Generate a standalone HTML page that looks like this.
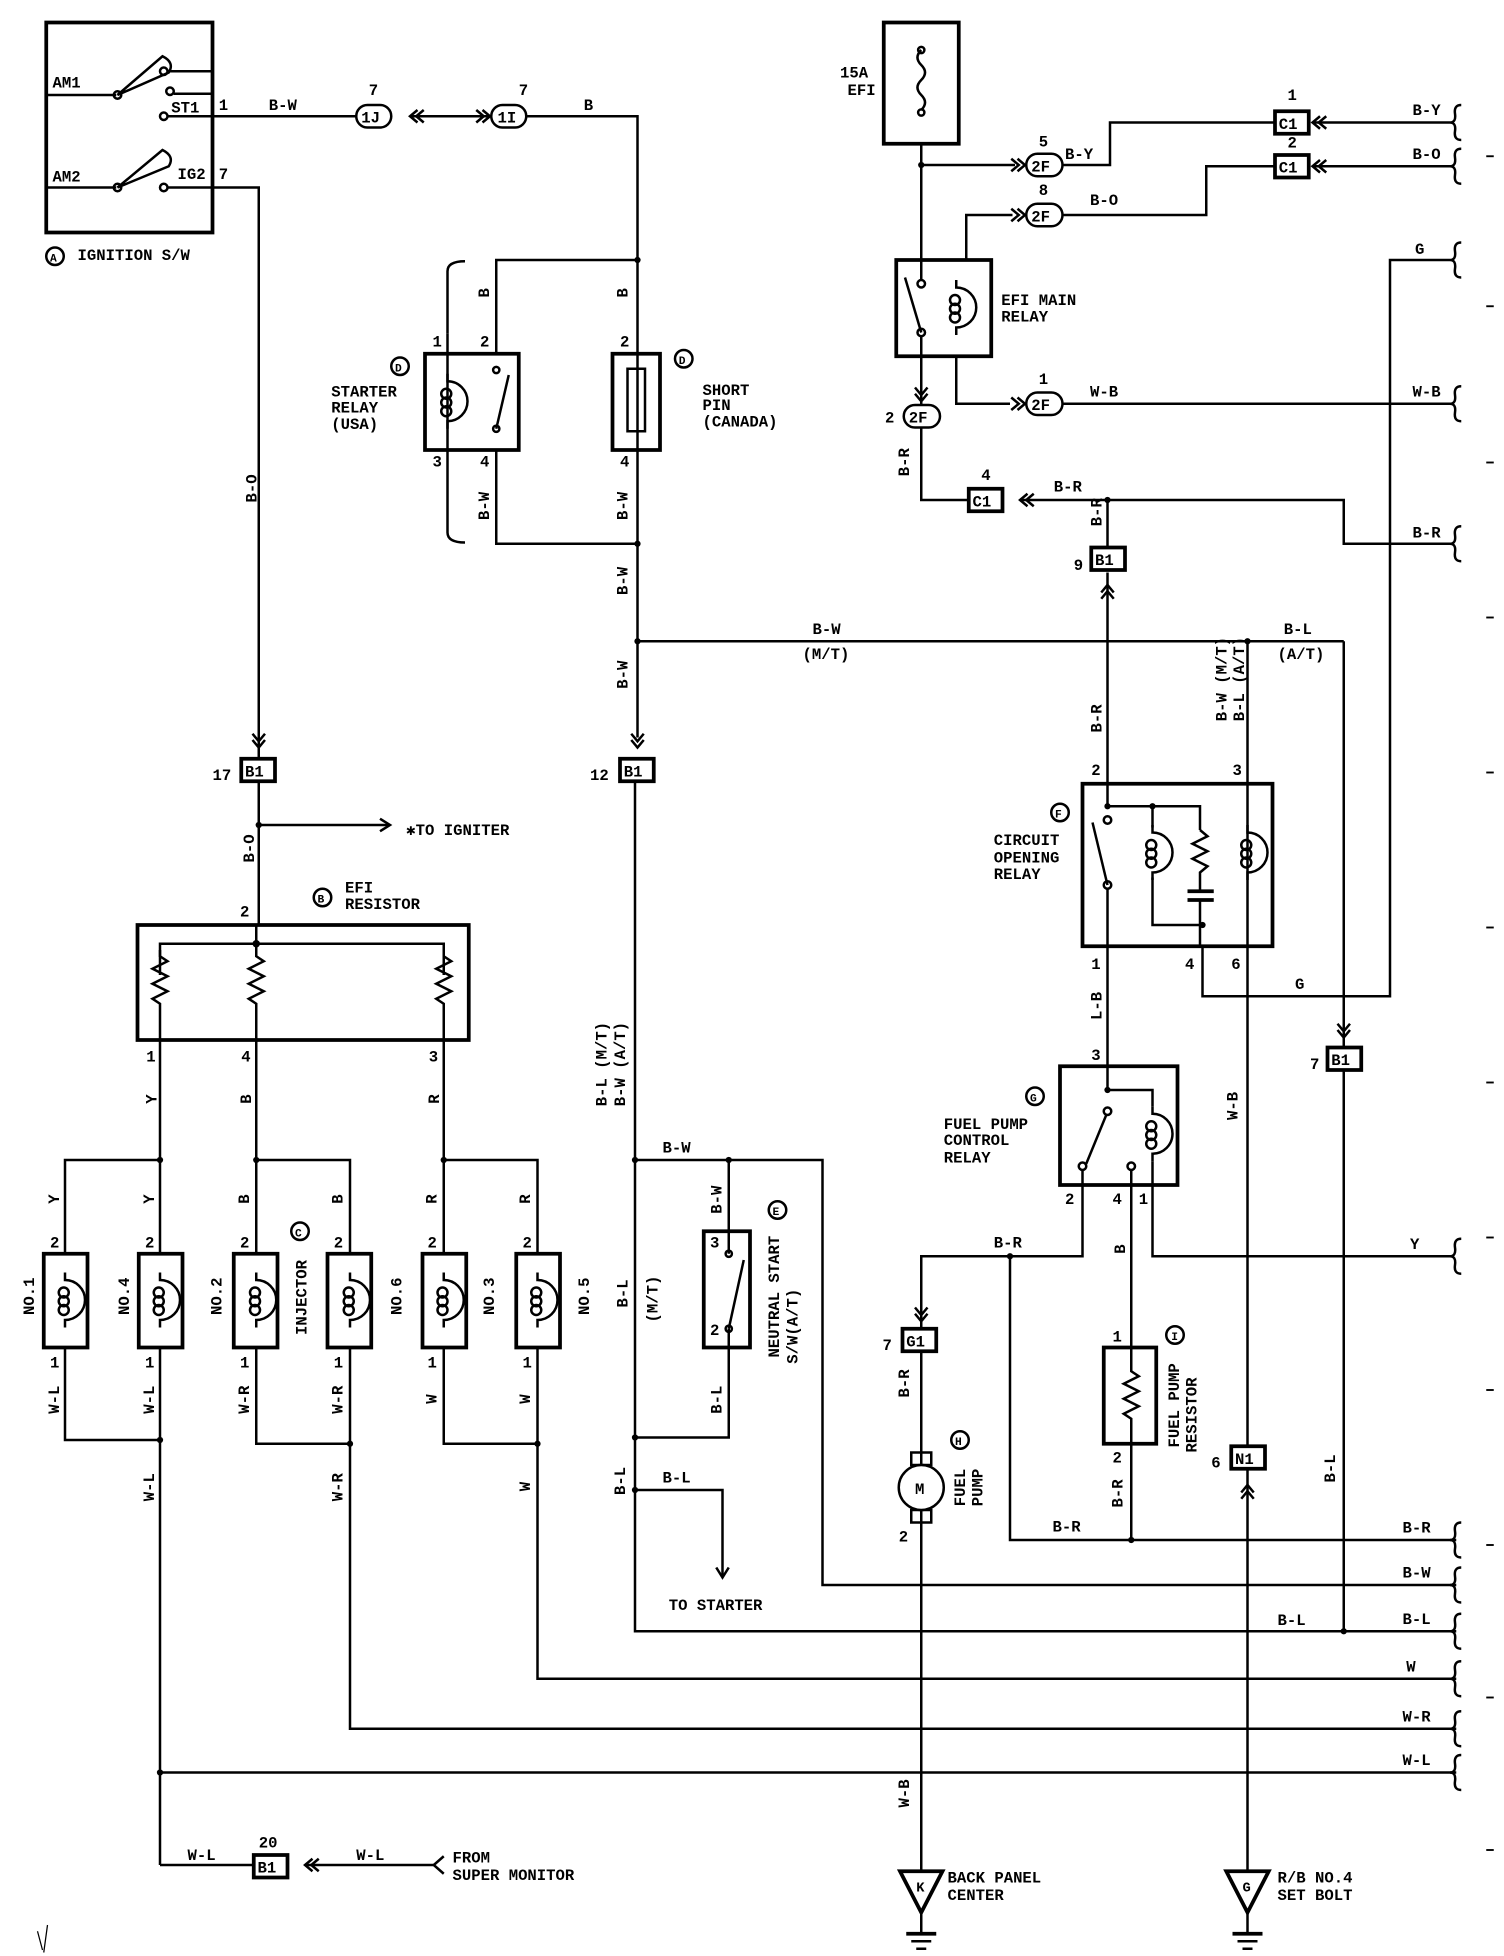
<!DOCTYPE html>
<html><head><meta charset="utf-8"><style>
html,body{margin:0;padding:0;background:#fff;}
svg{display:block}
text{font-family:"Liberation Mono","DejaVu Sans Mono",monospace;font-size:12.5px;font-weight:bold;fill:#000}
.w{fill:none;stroke:#000;stroke-width:2}
.b{fill:none;stroke:#000;stroke-width:3}
.f{fill:#000}
</style></head><body>
<svg width="1504" height="1956" viewBox="0 0 1203.2 1564.8" preserveAspectRatio="none" xmlns="http://www.w3.org/2000/svg">
<defs>
<g id="chev"><polyline points="-6,-5 0,0 -6,5" class="w"/><polyline points="-11,-5 -5,0 -11,5" class="w"/></g>
<g id="coil"><path d="M0,-22 v6 a4,4 0 0 1 0,32 v6" class="w"/><circle cx="-1" cy="-6" r="4" class="w" stroke-width="1.6"/><circle cx="-1" cy="1" r="4" class="w" stroke-width="1.6"/><circle cx="-1" cy="8" r="4" class="w" stroke-width="1.6"/></g>
<g id="res"><polyline points="0,0 0,5 6,9 -6,15 6,21 -6,27 6,33 -6,39 0,43 0,48" class="w"/></g>
<g id="brace"><path d="M6,-14 q-6,0 -5,7 q1,7 -4,7 q5,0 4,7 q-1,7 5,7" class="w"/></g>
<g id="gnd"><polygon points="-17,0 17,0 0,33" class="b"/><line x1="0" y1="33" x2="0" y2="50" class="w"/><line x1="-12" y1="50" x2="12" y2="50" class="b"/><line x1="-8" y1="56" x2="8" y2="56" class="w"/><line x1="-4" y1="62" x2="4" y2="62" class="w"/></g>
</defs>

<!-- Ignition switch -->
<rect x="37" y="18" width="133" height="168" class="b"/>
<text x="42" y="70">AM1</text><text x="42" y="145">AM2</text>
<line x1="37" y1="76" x2="93" y2="76" class="w"/><line x1="37" y1="150" x2="93" y2="150" class="w"/>
<circle cx="94" cy="76" r="3" class="w"/><circle cx="94" cy="150" r="3" class="w"/>
<path d="M94,76 L130,45 Q140,50 135,58 Z" class="w"/><path d="M94,150 L130,120 Q140,125 135,133 Z" class="w"/>
<circle cx="131" cy="57" r="3" class="w"/><line x1="134" y1="57" x2="170" y2="57" class="w"/>
<circle cx="136" cy="73" r="3" class="w"/><line x1="139" y1="75" x2="170" y2="75" class="w"/>
<circle cx="131" cy="93" r="3" class="w"/><text x="137" y="90">ST1</text>
<circle cx="131" cy="150" r="3" class="w"/><text x="142" y="143">IG2</text>
<text x="175" y="88">1</text><text x="175" y="143">7</text>
<circle cx="44" cy="205" r="7" class="w"/><text x="40" y="209" style="font-size:9px">A</text><text x="62" y="208">IGNITION S/W</text>

<!-- ST1 wire -->
<line x1="134" y1="93" x2="285" y2="93" class="w"/><text x="215" y="88">B-W</text>
<rect x="285" y="84" width="28" height="18" rx="9" class="w"/><text x="289" y="98">1J</text><text x="295" y="76">7</text>
<use href="#chev" transform="translate(328,93) rotate(180)"/><line x1="328" y1="93" x2="392" y2="93" class="w"/>
<use href="#chev" transform="translate(392,93)"/>
<rect x="393" y="84" width="28" height="18" rx="9" class="w"/><text x="398" y="98">1I</text><text x="415" y="76">7</text>
<polyline points="421,93 510,93 510,590" class="w"/><text x="467" y="88">B</text>

<!-- IG2 wire -->
<polyline points="134,150 207,150 207,606" class="w"/><use href="#chev" transform="translate(207,598) rotate(90)"/>
<text x="203" y="410" transform="rotate(-90 200 405)">B-O</text>
<rect x="193" y="607" width="27" height="18" class="b"/><text x="196" y="621">B1</text><text x="170" y="624">17</text>
<line x1="207" y1="625" x2="207" y2="740" class="w"/><circle cx="207" cy="660" r="2.5" class="f"/>
<line x1="207" y1="660" x2="312" y2="660" class="w"/><polyline points="304,655 312,660 304,665" class="w"/>
<text x="325" y="668">✱TO IGNITER</text>
<text x="198" y="695" transform="rotate(-90 198 690)">B-O</text>
<text x="192" y="733">2</text>
<circle cx="258" cy="718" r="7" class="w"/><text x="254" y="722" style="font-size:9px">B</text>
<text x="276" y="714">EFI</text><text x="276" y="727">RESISTOR</text>

<!-- EFI resistor -->
<rect x="110" y="740" width="265" height="92" class="b"/>
<polyline points="128,780 128,755 355,755 355,780" class="w"/><line x1="205" y1="740" x2="205" y2="760" class="w"/><circle cx="205" cy="755" r="3" class="f"/>
<use href="#res" transform="translate(128,760)"/><use href="#res" transform="translate(205,760)"/><use href="#res" transform="translate(355,760)"/>
<line x1="128" y1="808" x2="128" y2="928" class="w"/><line x1="205" y1="808" x2="205" y2="928" class="w"/><line x1="355" y1="808" x2="355" y2="928" class="w"/>
<text x="117" y="849">1</text><text x="193" y="849">4</text><text x="343" y="849">3</text>
<text x="122" y="890" transform="rotate(-90 120 885)">Y</text><text x="198" y="890" transform="rotate(-90 196 885)">B</text><text x="348" y="890" transform="rotate(-90 346 885)">R</text>

<!-- Injectors -->
<g>
<polyline points="52,1003 52,928 128,928 128,1003" class="w"/>
<polyline points="205,1003 205,928 280,928 280,1003" class="w"/>
<polyline points="355,1003 355,928 430,928 430,1003" class="w"/>
<circle cx="128" cy="928" r="2.5" class="f"/><circle cx="205" cy="928" r="2.5" class="f"/><circle cx="355" cy="928" r="2.5" class="f"/>
<rect x="35" y="1003" width="35" height="75" class="b"/><rect x="111" y="1003" width="35" height="75" class="b"/>
<rect x="187" y="1003" width="35" height="75" class="b"/><rect x="262" y="1003" width="35" height="75" class="b"/>
<rect x="338" y="1003" width="35" height="75" class="b"/><rect x="413" y="1003" width="35" height="75" class="b"/>
<use href="#coil" transform="translate(52,1040)"/><use href="#coil" transform="translate(128,1040)"/>
<use href="#coil" transform="translate(205,1040)"/><use href="#coil" transform="translate(280,1040)"/>
<use href="#coil" transform="translate(355,1040)"/><use href="#coil" transform="translate(430,1040)"/>
<text x="40" y="998">2</text><text x="116" y="998">2</text><text x="192" y="998">2</text><text x="267" y="998">2</text><text x="342" y="998">2</text><text x="418" y="998">2</text>
<text x="40" y="1094">1</text><text x="116" y="1094">1</text><text x="192" y="1094">1</text><text x="267" y="1094">1</text><text x="342" y="1094">1</text><text x="418" y="1094">1</text>
<text x="44" y="970" transform="rotate(-90 42 965)">Y</text><text x="120" y="970" transform="rotate(-90 118 965)">Y</text>
<text x="196" y="970" transform="rotate(-90 194 965)">B</text><text x="271" y="970" transform="rotate(-90 269 965)">B</text>
<text x="346" y="970" transform="rotate(-90 344 965)">R</text><text x="421" y="970" transform="rotate(-90 419 965)">R</text>
<text x="10" y="1045" transform="rotate(-90 22 1040)">NO.1</text><text x="86" y="1045" transform="rotate(-90 98 1040)">NO.4</text>
<text x="160" y="1045" transform="rotate(-90 172 1040)">NO.2</text><text x="212" y="1045" transform="rotate(-90 240 1040)">INJECTOR</text>
<circle cx="240" cy="985" r="7" class="w"/><text x="236" y="989" style="font-size:9px">C</text>
<text x="304" y="1045" transform="rotate(-90 316 1040)">NO.6</text><text x="378" y="1045" transform="rotate(-90 390 1040)">NO.3</text>
<text x="454" y="1045" transform="rotate(-90 466 1040)">NO.5</text>
<polyline points="52,1078 52,1152 128,1152" class="w"/><line x1="128" y1="1078" x2="128" y2="1492" class="w"/>
<polyline points="205,1078 205,1155 280,1155" class="w"/><polyline points="280,1078 280,1383 1165,1383" class="w"/>
<polyline points="355,1078 355,1155 430,1155" class="w"/><polyline points="430,1078 430,1343 1165,1343" class="w"/>
<circle cx="128" cy="1152" r="2.5" class="f"/><circle cx="280" cy="1155" r="2.5" class="f"/><circle cx="430" cy="1155" r="2.5" class="f"/>
<text x="36" y="1130" transform="rotate(-90 42 1125)">W-L</text><text x="112" y="1130" transform="rotate(-90 118 1125)">W-L</text>
<text x="188" y="1130" transform="rotate(-90 194 1125)">W-R</text><text x="263" y="1130" transform="rotate(-90 269 1125)">W-R</text>
<text x="346" y="1130" transform="rotate(-90 344 1125)">W</text><text x="421" y="1130" transform="rotate(-90 419 1125)">W</text>
<text x="112" y="1200" transform="rotate(-90 118 1195)">W-L</text><text x="263" y="1200" transform="rotate(-90 269 1195)">W-R</text>
<text x="421" y="1200" transform="rotate(-90 419 1195)">W</text>
<line x1="128" y1="1418" x2="1165" y2="1418" class="w"/><circle cx="128" cy="1418" r="2.5" class="f"/>
<line x1="128" y1="1492" x2="203" y2="1492" class="w"/><text x="150" y="1488">W-L</text>
<rect x="203" y="1484" width="27" height="18" class="b"/><text x="206" y="1498">B1</text><text x="207" y="1478">20</text>
<use href="#chev" transform="translate(244,1492) rotate(180)"/><line x1="244" y1="1492" x2="348" y2="1492" class="w"/>
<polyline points="355,1485 347,1492 355,1499" class="w"/><text x="285" y="1488">W-L</text>
<text x="362" y="1490">FROM</text><text x="362" y="1504">SUPER MONITOR</text>
</g>

<!-- Starter relay / short pin -->
<path d="M372,209 q-14,0 -14,8 v50" class="w"/><path d="M372,434 q-14,0 -14,-8 v-50" class="w"/>
<line x1="358" y1="267" x2="358" y2="376" class="w"/>
<polyline points="397,283 397,208 510,208" class="w"/><circle cx="510" cy="208" r="2.5" class="f"/>
<polyline points="397,360 397,435 510,435" class="w"/><circle cx="510" cy="435" r="2.5" class="f"/>
<rect x="340" y="283" width="75" height="77" class="b"/>
<use href="#coil" transform="translate(358,321)"/>
<circle cx="397" cy="296" r="2.5" class="w"/><circle cx="397" cy="343" r="2.5" class="w"/><line x1="397" y1="343" x2="407" y2="300" class="w"/>
<text x="346" y="277">1</text><text x="384" y="277">2</text><text x="346" y="373">3</text><text x="384" y="373">4</text>
<text x="388" y="245" transform="rotate(-90 386 240)">B</text><text x="380" y="415" transform="rotate(-90 386 410)">B-W</text>
<circle cx="320" cy="293" r="7" class="w"/><text x="316" y="297" style="font-size:9px">D</text>
<text x="265" y="317">STARTER</text><text x="265" y="330">RELAY</text><text x="265" y="343">(USA)</text>
<rect x="490" y="283" width="38" height="77" class="b"/><rect x="502" y="295" width="14" height="50" class="w"/>
<text x="496" y="277">2</text><text x="496" y="373">4</text>
<text x="499" y="245" transform="rotate(-90 497 240)">B</text><text x="491" y="415" transform="rotate(-90 497 410)">B-W</text>
<circle cx="547" cy="287" r="7" class="w"/><text x="543" y="291" style="font-size:9px">D</text>
<text x="562" y="316">SHORT</text><text x="562" y="328">PIN</text><text x="562" y="341">(CANADA)</text>
<text x="491" y="475" transform="rotate(-90 497 470)">B-W</text><text x="491" y="550" transform="rotate(-90 497 545)">B-W</text>
<use href="#chev" transform="translate(510,598) rotate(90)"/>
<line x1="510" y1="513" x2="1075" y2="513" class="w"/><circle cx="510" cy="513" r="2.5" class="f"/><circle cx="998" cy="513" r="2.5" class="f"/>
<text x="650" y="507">B-W</text><text x="642" y="527">(M/T)</text><text x="1027" y="507">B-L</text><text x="1022" y="527">(A/T)</text>
<rect x="496" y="607" width="27" height="18" class="b"/><text x="499" y="621">B1</text><text x="472" y="624">12</text>

<!-- Neutral start -->
<polyline points="508,625 508,1305 1165,1305" class="w"/>
<text x="460" y="870" transform="rotate(-90 480 865)">B-L (M/T)</text><text x="475" y="870" transform="rotate(-90 495 865)">B-W (A/T)</text>
<line x1="508" y1="928" x2="583" y2="928" class="w"/><circle cx="508" cy="928" r="2.5" class="f"/><circle cx="583" cy="928" r="2.5" class="f"/>
<polyline points="583,928 658,928 658,1268 1165,1268" class="w"/><text x="530" y="922">B-W</text>
<line x1="583" y1="928" x2="583" y2="1003" class="w"/>
<rect x="563" y="985" width="37" height="93" class="b"/>
<circle cx="583" cy="1003" r="2.5" class="w"/><circle cx="583" cy="1063" r="2.5" class="w"/><line x1="583" y1="1063" x2="595" y2="1008" class="w"/>
<text x="568" y="998">3</text><text x="568" y="1068">2</text>
<polyline points="583,1063 583,1150 508,1150" class="w"/><circle cx="508" cy="1150" r="2.5" class="f"/>
<text x="566" y="970" transform="rotate(-90 572 965)">B-W</text><text x="566" y="1130" transform="rotate(-90 572 1125)">B-L</text>
<text x="491" y="1045" transform="rotate(-90 497 1040)">B-L</text><text x="503" y="1045" transform="rotate(-90 521 1040)">(M/T)</text>
<circle cx="622" cy="968" r="7" class="w"/><text x="618" y="972" style="font-size:9px">E</text>
<text x="572" y="1045" transform="rotate(-90 618 1040)">NEUTRAL START</text><text x="582" y="1045" transform="rotate(-90 633 1040)">S/W(A/T)</text>
<polyline points="508,1192 578,1192 578,1262" class="w"/><circle cx="508" cy="1192" r="2.5" class="f"/><polyline points="573,1254 578,1262 583,1254" class="w"/>
<text x="530" y="1186">B-L</text><text x="489" y="1195" transform="rotate(-90 495 1190)">B-L</text>
<text x="535" y="1288">TO STARTER</text>

<!-- EFI fuse and main relay -->
<rect x="707" y="18" width="60" height="97" class="b"/>
<path d="M737,40 q-6,6 0,12 q6,6 0,12 q-6,6 0,12 q6,6 0,12" class="w"/><circle cx="737" cy="40" r="2.5" class="w"/><circle cx="737" cy="90" r="2.5" class="w"/>
<text x="672" y="62">15A</text><text x="678" y="76">EFI</text>
<line x1="737" y1="115" x2="737" y2="224" class="w"/><circle cx="737" cy="132" r="2.5" class="f"/>
<line x1="737" y1="132" x2="812" y2="132" class="w"/><use href="#chev" transform="translate(820,132)"/>
<rect x="821" y="123" width="29" height="18" rx="9" class="w"/><text x="825" y="137">2F</text><text x="831" y="117">5</text>
<polyline points="850,132 888,132 888,98 1020,98" class="w"/><text x="852" y="127">B-Y</text>
<rect x="1020" y="89" width="27" height="18" class="b"/><text x="1023" y="103">C1</text><text x="1030" y="80">1</text>
<use href="#chev" transform="translate(1050,98) rotate(180)"/>
<line x1="1050" y1="98" x2="1160" y2="98" class="w"/><text x="1130" y="92">B-Y</text>
<rect x="1020" y="124" width="27" height="18" class="b"/><text x="1023" y="138">C1</text><text x="1030" y="118">2</text>
<use href="#chev" transform="translate(1050,133) rotate(180)"/>
<line x1="1050" y1="133" x2="1160" y2="133" class="w"/><text x="1130" y="127">B-O</text>
<polyline points="1020,133 965,133 965,172 850,172" class="w"/><text x="872" y="164">B-O</text>
<rect x="821" y="163" width="29" height="18" rx="9" class="w"/><text x="825" y="177">2F</text><text x="831" y="156">8</text>
<use href="#chev" transform="translate(820,172)"/><polyline points="810,172 773,172 773,208" class="w"/>
<rect x="717" y="208" width="76" height="77" class="b"/>
<circle cx="737" cy="227" r="3" class="w"/><circle cx="737" cy="266" r="3" class="w"/><line x1="737" y1="266" x2="724" y2="222" class="w"/>
<use href="#coil" transform="translate(765,246)"/>
<text x="801" y="244">EFI MAIN</text><text x="801" y="257">RELAY</text>
<line x1="737" y1="269" x2="737" y2="324" class="w"/><use href="#chev" transform="translate(737,321) rotate(90)"/>
<rect x="723" y="324" width="29" height="18" rx="9" class="w"/><text x="727" y="338">2F</text><text x="708" y="338">2</text>
<polyline points="765,285 765,323 808,323" class="w"/><use href="#chev" transform="translate(820,323)"/>
<rect x="821" y="314" width="29" height="18" rx="9" class="w"/><text x="825" y="328">2F</text><text x="831" y="307">1</text>
<line x1="850" y1="323" x2="1160" y2="323" class="w"/><text x="872" y="317">W-B</text><text x="1130" y="317">W-B</text>
<polyline points="737,342 737,400 775,400" class="w"/><text x="716" y="380" transform="rotate(-90 722 375)">B-R</text>
<rect x="775" y="391" width="27" height="18" class="b"/><text x="778" y="405">C1</text><text x="785" y="384">4</text>
<use href="#chev" transform="translate(816,400) rotate(180)"/>
<polyline points="816,400 1075,400 1075,435 1160,435" class="w"/><circle cx="886" cy="400" r="2.5" class="f"/>
<text x="843" y="393">B-R</text><text x="1130" y="430">B-R</text>
<line x1="886" y1="400" x2="886" y2="438" class="w"/><text x="870" y="420" transform="rotate(-90 876 415)">B-R</text>
<rect x="873" y="438" width="27" height="18" class="b"/><text x="876" y="452">B1</text><text x="859" y="456">9</text>
<use href="#chev" transform="translate(886,468) rotate(-90)"/>
<line x1="886" y1="458" x2="886" y2="645" class="w"/><text x="870" y="585" transform="rotate(-90 876 580)">B-R</text>

<!-- G wire -->
<polyline points="1160,208 1112,208 1112,797 962,797 962,757" class="w"/><text x="1132" y="203">G</text><text x="1036" y="791">G</text>

<!-- Circuit opening relay -->
<line x1="998" y1="513" x2="998" y2="1157" class="w"/>
<text x="964" y="570" transform="rotate(-90 976 565)">B-W (M/T)</text><text x="978" y="570" transform="rotate(-90 990 565)">B-L (A/T)</text>
<rect x="866" y="627" width="152" height="130" class="b"/>
<text x="873" y="620">2</text><text x="986" y="620">3</text><text x="873" y="775">1</text><text x="948" y="775">4</text><text x="985" y="775">6</text>
<polyline points="886,645 960,645 960,664" class="w"/><circle cx="886" cy="645" r="2.5" class="f"/><circle cx="922" cy="645" r="2.5" class="f"/>
<circle cx="886" cy="656" r="3" class="w"/><circle cx="886" cy="708" r="3" class="w"/><line x1="886" y1="708" x2="874" y2="658" class="w"/>
<line x1="886" y1="711" x2="886" y2="853" class="w"/>
<use href="#coil" transform="translate(922,682)"/><line x1="922" y1="645" x2="922" y2="662" class="w"/>
<polyline points="922,702 922,740 962,740" class="w"/><circle cx="962" cy="740" r="2.5" class="f"/>
<polyline points="960,664 966,669 954,675 966,681 954,687 966,693 960,698 960,713" class="w"/>
<line x1="950" y1="713" x2="971" y2="713" class="b"/><line x1="950" y1="720" x2="971" y2="720" class="b"/>
<line x1="960" y1="720" x2="960" y2="757" class="w"/>
<use href="#coil" transform="translate(998,682)"/>
<circle cx="848" cy="650" r="7" class="w"/><text x="844" y="654" style="font-size:9px">F</text>
<text x="795" y="676">CIRCUIT</text><text x="795" y="690">OPENING</text><text x="795" y="703">RELAY</text>
<text x="870" y="815" transform="rotate(-90 876 810)">L-B</text>

<!-- B1 7 -->
<line x1="1075" y1="513" x2="1075" y2="838" class="w"/><use href="#chev" transform="translate(1075,830) rotate(90)"/>
<rect x="1062" y="838" width="27" height="18" class="b"/><text x="1065" y="852">B1</text><text x="1048" y="855">7</text>
<line x1="1075" y1="856" x2="1075" y2="1305" class="w"/><circle cx="1075" cy="1305" r="2.5" class="f"/>
<text x="1057" y="1185" transform="rotate(-90 1063 1180)">B-L</text><text x="1022" y="1300">B-L</text>

<!-- Fuel pump control relay -->
<rect x="848" y="853" width="94" height="95" class="b"/>
<text x="873" y="848">3</text><text x="852" y="963">2</text><text x="890" y="963">4</text><text x="911" y="963">1</text>
<polyline points="886,853 886,872 922,872 922,885" class="w"/><circle cx="886" cy="872" r="2.5" class="f"/>
<circle cx="886" cy="889" r="3" class="w"/><circle cx="866" cy="933" r="3" class="w"/><line x1="869" y1="931" x2="885" y2="892" class="w"/>
<use href="#coil" transform="translate(922,907)"/><circle cx="905" cy="933" r="3" class="w"/>
<circle cx="828" cy="877" r="7" class="w"/><text x="824" y="881" style="font-size:9px">G</text>
<text x="755" y="903">FUEL PUMP</text><text x="755" y="916">CONTROL</text><text x="755" y="930">RELAY</text>
<polyline points="866,936 866,1005 737,1005 737,1063" class="w"/><use href="#chev" transform="translate(737,1057) rotate(90)"/>
<circle cx="808" cy="1005" r="2.5" class="f"/><text x="795" y="998">B-R</text>
<polyline points="808,1005 808,1232 1165,1232" class="w"/><circle cx="905" cy="1232" r="2.5" class="f"/><text x="842" y="1225">B-R</text>
<polyline points="922,929 922,1005 1160,1005" class="w"/><text x="1128" y="999">Y</text>
<line x1="905" y1="936" x2="905" y2="1078" class="w"/><text x="897" y="1010" transform="rotate(-90 895 1005)">B</text>
<rect x="883" y="1078" width="42" height="77" class="b"/><use href="#res" transform="translate(905,1092)"/>
<line x1="905" y1="1078" x2="905" y2="1092" class="w"/><line x1="905" y1="1140" x2="905" y2="1232" class="w"/>
<text x="890" y="1073">1</text><text x="890" y="1170">2</text><text x="887" y="1205" transform="rotate(-90 893 1200)">B-R</text>
<circle cx="940" cy="1068" r="7" class="w"/><text x="937" y="1072" style="font-size:9px">I</text>
<text x="895" y="1120" transform="rotate(-90 938 1115)">FUEL PUMP</text><text x="905" y="1120" transform="rotate(-90 952 1115)">RESISTOR</text>

<!-- Fuel pump -->
<rect x="722" y="1063" width="27" height="18" class="b"/><text x="725" y="1077">G1</text><text x="706" y="1080">7</text>
<line x1="737" y1="1081" x2="737" y2="1497" class="w"/>
<text x="716" y="1117" transform="rotate(-90 722 1112)">B-R</text>
<rect x="729" y="1162" width="16" height="10" class="w"/><rect x="729" y="1208" width="16" height="10" class="w"/>
<circle cx="737" cy="1190" r="18" fill="#fff" stroke="#000" stroke-width="2"/><text x="732" y="1195">M</text>
<text x="719" y="1233">2</text>
<circle cx="768" cy="1152" r="7" class="w"/><text x="764" y="1156" style="font-size:9px">H</text>
<text x="752" y="1195" transform="rotate(-90 767 1190)">FUEL</text><text x="766" y="1195" transform="rotate(-90 781 1190)">PUMP</text>
<text x="716" y="1445" transform="rotate(-90 722 1440)">W-B</text>
<rect x="725" y="1498" width="24" height="14" fill="#fff"/>
<use href="#gnd" transform="translate(737,1497)"/><text x="733" y="1513" style="font-size:11px">K</text>
<text x="758" y="1506">BACK PANEL</text><text x="758" y="1520">CENTER</text>

<!-- N1 -->
<text x="979" y="895" transform="rotate(-90 985 890)">W-B</text>
<rect x="985" y="1157" width="27" height="18" class="b"/><text x="988" y="1171">N1</text><text x="969" y="1174">6</text>
<use href="#chev" transform="translate(998,1188) rotate(-90)"/>
<line x1="998" y1="1175" x2="998" y2="1497" class="w"/>
<rect x="986" y="1498" width="24" height="14" fill="#fff"/>
<use href="#gnd" transform="translate(998,1497)"/><text x="994" y="1513" style="font-size:11px">G</text>
<text x="1022" y="1506">R/B NO.4</text><text x="1022" y="1520">SET BOLT</text>

<!-- Right labels -->
<text x="1122" y="1226">B-R</text><text x="1122" y="1262">B-W</text><text x="1122" y="1299">B-L</text>
<text x="1125" y="1337">W</text><text x="1122" y="1377">W-R</text><text x="1122" y="1412">W-L</text>
<g>
<use href="#brace" transform="translate(1163,98)"/><use href="#brace" transform="translate(1163,133)"/>
<use href="#brace" transform="translate(1163,208)"/><use href="#brace" transform="translate(1163,323)"/>
<use href="#brace" transform="translate(1163,435)"/><use href="#brace" transform="translate(1163,1005)"/>
<use href="#brace" transform="translate(1163,1232)"/><use href="#brace" transform="translate(1163,1268)"/>
<use href="#brace" transform="translate(1163,1305)"/><use href="#brace" transform="translate(1163,1343)"/>
<use href="#brace" transform="translate(1163,1383)"/><use href="#brace" transform="translate(1163,1418)"/>
</g>
<g stroke="#000" stroke-width="1.5">
<line x1="1189" y1="125" x2="1195" y2="125"/><line x1="1189" y1="245" x2="1195" y2="245"/><line x1="1189" y1="370" x2="1195" y2="370"/>
<line x1="1189" y1="494" x2="1195" y2="494"/><line x1="1189" y1="618" x2="1195" y2="618"/><line x1="1189" y1="742" x2="1195" y2="742"/>
<line x1="1189" y1="866" x2="1195" y2="866"/><line x1="1189" y1="990" x2="1195" y2="990"/><line x1="1189" y1="1112" x2="1195" y2="1112"/>
<line x1="1189" y1="1236" x2="1195" y2="1236"/><line x1="1189" y1="1358" x2="1195" y2="1358"/><line x1="1189" y1="1480" x2="1195" y2="1480"/>
</g>
<path d="M30,1545 l4,15 M38,1540 l-3,22" stroke="#000" stroke-width="1"/>
</svg>
</body></html>
